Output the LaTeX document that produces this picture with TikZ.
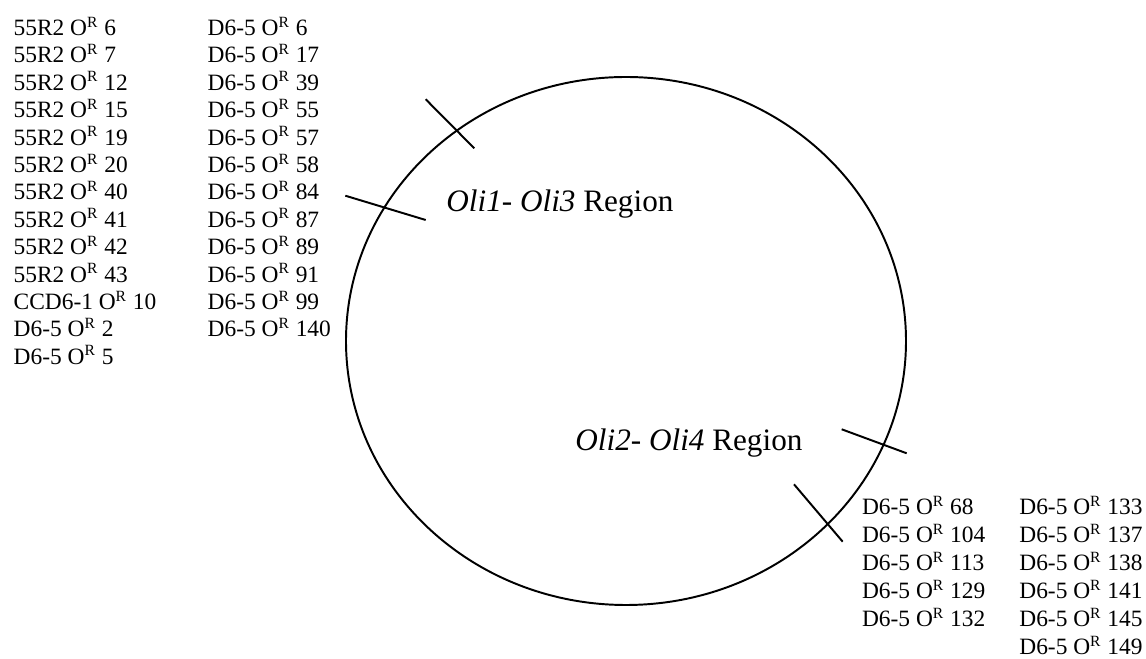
\documentclass[tikz,border=0pt]{standalone}
\usepackage{fontspec}
\setmainfont{Liberation Serif}
\usepackage{tikz}

\begin{document}
\begin{tikzpicture}[x=0.5128pt, y=-0.5128pt,
  lbl/.style={anchor=base west, inner sep=0pt, font=\fontsize{12}{14}\selectfont},
  region/.style={anchor=base west, inner sep=0pt, font=\fontsize{16}{19}\selectfont},
  tick/.style={line width=1pt, line cap=butt}]
  \useasboundingbox (0,0) rectangle (1146,659);

  % Plasmid
  \draw[line width=1pt] (626,341) ellipse [x radius=280, y radius=264];

  % Region borders
  \draw[tick] (425.7,99.3) -- (474.3,148.3);
  \draw[tick] (345.3,195.7) -- (425.7,220);
  \draw[tick] (841.7,429.3) -- (906.7,453.3);
  \draw[tick] (794,484.3) -- (842.7,541.7);

  % Regions
  \node[region] (oli13) at (446,211.7) {\textit{Oli1}- \textit{Oli3} Region};
  \node[region] (oli24) at (575,450.5) {\textit{Oli2}- \textit{Oli4} Region};

  % Oli1-Oli3 mutants, first column
  \foreach \n [count=\i from 0] in {6,7,12,15,19,20,40,41,42,43}
    \node[lbl] (sr\i) at (13.3,35.5+27.4*\i) {55R2 O\textsuperscript{R} \n};
  \node[lbl] (ccd10) at (13.3,35.5+27.4*10) {CCD6-1 O\textsuperscript{R} 10};
  \node[lbl] (da2) at (13.3,35.5+27.4*11) {D6-5 O\textsuperscript{R} 2};
  \node[lbl] (da5) at (13.3,35.5+27.4*12) {D6-5 O\textsuperscript{R} 5};

  % Oli1-Oli3 mutants, second column
  \foreach \n [count=\i from 0] in {6,17,39,55,57,58,84,87,89,91,99,140}
    \node[lbl] (db\i) at (207.3,35.5+27.4*\i) {D6-5 O\textsuperscript{R} \n};

  % Oli2-Oli4 mutants
  \foreach \n [count=\i from 0] in {68,104,113,129,132}
    \node[lbl] (dc\i) at (861.7,515+28*\i) {D6-5 O\textsuperscript{R} \n};
  \foreach \n [count=\i from 0] in {133,137,138,141,145,149}
    \node[lbl] (dd\i) at (1019,515+28*\i) {D6-5 O\textsuperscript{R} \n};
\end{tikzpicture}
\end{document}
